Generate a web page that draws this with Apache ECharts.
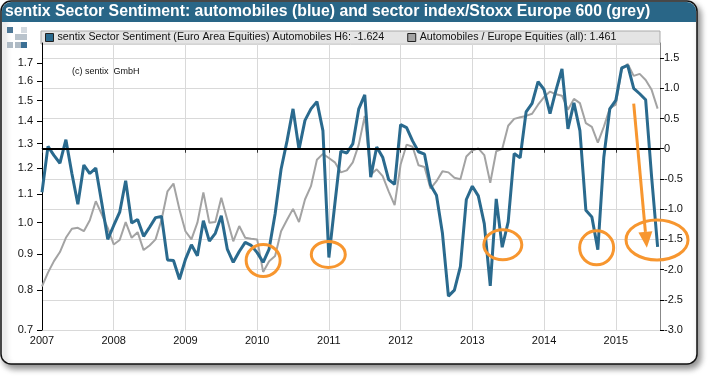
<!DOCTYPE html>
<html lang="en">
<head>
<meta charset="UTF-8">
<title>sentix Sector Sentiment: automobiles</title>
<script src="https://cdn.jsdelivr.net/npm/echarts@6/dist/echarts.min.js"></script>
<style>
html, body { margin: 0; padding: 0; background: #fff; }
#chart { width: 710px; height: 376px; }
</style>
</head>
<body>
<div id="chart"></div>
<script type="text/javascript">
// monthly values, Jan 2007 .. Aug 2015
var startYear = 2007;
var sentiment = [
    -0.72, 0.04, -0.11, -0.24, 0.15, -0.41, -0.92, -0.27, -0.41, -0.32, -0.90, -1.50,
    -1.27, -1.05, -0.53, -1.23, -1.17, -1.45, -1.30, -1.14, -1.12, -1.84, -1.85, -2.16,
    -1.83, -1.59, -1.77, -1.19, -1.53, -1.40, -1.11, -1.66, -1.88, -1.70, -1.55, -1.60,
    -1.72, -1.88, -1.66, -1.08, -0.34, 0.13, 0.66, -0.01, 0.47, 0.66, 0.78, 0.30,
    -1.80, -0.91, -0.04, -0.07, 0.08, 0.66, 0.89, -0.47, 0.03, -0.14, -0.51, -0.59,
    0.40, 0.35, 0.13, -0.05, -0.09, -0.60, -0.77, -1.40, -2.44, -2.34, -1.95, -0.84,
    -0.62, -0.78, -1.24, -2.27, -0.83, -1.63, -1.21, -0.08, -0.15, 0.61, 0.75, 1.11,
    0.98, 0.58, 0.97, 1.32, 0.33, 0.76, 0.30, -1.02, -1.13, -1.67, -0.14, 0.66,
    0.80, 1.34, 1.38, 1.00, 0.91, 0.81, -0.47, -1.624
];
var relIndex = [
    0.809, 0.847, 0.880, 0.907, 0.951, 0.980, 0.983, 0.972, 1.008, 1.074, 1.028, 0.983,
    0.930, 0.944, 1.002, 0.951, 0.969, 0.913, 0.927, 0.946, 1.010, 1.110, 1.139, 1.045,
    0.972, 0.946, 1.000, 1.106, 1.000, 1.002, 1.086, 1.010, 0.940, 0.989, 0.951, 0.948,
    0.946, 0.849, 0.880, 0.895, 0.972, 1.010, 1.047, 1.002, 1.080, 1.129, 1.233, 1.257,
    1.240, 1.222, 1.182, 1.190, 1.222, 1.296, 1.426, 1.173, 1.194, 1.167, 1.110, 1.060,
    1.213, 1.296, 1.287, 1.210, 1.203, 1.120, 1.148, 1.186, 1.182, 1.161, 1.155, 1.246,
    1.271, 1.280, 1.252, 1.142, 1.268, 1.278, 1.380, 1.412, 1.420, 1.426, 1.436, 1.480,
    1.518, 1.546, 1.532, 1.525, 1.456, 1.509, 1.488, 1.392, 1.375, 1.305, 1.375, 1.463,
    1.480, 1.665, 1.695, 1.629, 1.640, 1.607, 1.555, 1.461
];
var leftTicks = [0.7, 0.8, 0.9, 1.0, 1.1, 1.2, 1.3, 1.4, 1.5, 1.6, 1.7];
var blueName = 'sentix Sector Sentiment (Euro Area Equities) Automobiles H6: -1.624';
var greyName = 'Automobiles / Europe Equities (all): 1.461';

// orange marks, in chart coordinates (month index, right axis value) + radii
var rings = [[37.0, -1.85, 17, 16], [47.9, -1.75, 17, 13], [77.1, -1.59, 19, 15], [92.8, -1.64, 17, 17], [102.9, -1.51, 31, 20]];
var arrow = [[99.0, 0.745], [101.2, -1.64]];

var blue = '#2a6a8e', grey = '#a3a3a3', orange = '#f7962f';
var font = '"Liberation Sans", Arial, sans-serif';

function pairs(arr) {
    return arr.map(function (v, i) { return [i, v]; });
}

var chart = echarts.init(document.getElementById('chart'));

var frame = [
    { type: 'rect', z: -10, shape: { x: 1, y: 1, width: 696, height: 363, r: 10 },
      style: { fill: '#fff', stroke: '#111', lineWidth: 1.5, shadowBlur: 6, shadowOffsetX: 3, shadowOffsetY: 4, shadowColor: 'rgba(0,0,0,0.45)' } },
    { type: 'rect', z: -9, shape: { x: 2, y: 2, width: 694, height: 20, r: [9, 9, 0, 0] }, style: { fill: '#296687' } },
    { type: 'text', z: -8, left: 5, top: 4, style: { text: 'sentix Sector Sentiment: automobiles (blue) and sector index/Stoxx Europe 600 (grey)', fill: '#fff', font: 'bold 15.8px ' + font } },
    { type: 'rect', z: -9, shape: { x: 41, y: 31, width: 619, height: 13 }, style: { fill: '#e4e4e4', stroke: '#aaa', lineWidth: 1 } },
    { type: 'text', z: -8, left: 72, top: 67, style: { text: '(c) sentix  GmbH', fill: '#111', font: '9px ' + font } },
    { type: 'rect', z: -8, shape: { x: 7, y: 27, width: 6, height: 6 }, style: { fill: '#4d7796' } },
    { type: 'rect', z: -8, shape: { x: 21, y: 27, width: 6, height: 6 }, style: { fill: '#d3d9df' } },
    { type: 'rect', z: -8, shape: { x: 15, y: 34, width: 6, height: 6 }, style: { fill: '#b9c3cc' } },
    { type: 'rect', z: -8, shape: { x: 21, y: 34, width: 6, height: 6 }, style: { fill: '#b9c3cc' } },
    { type: 'rect', z: -8, shape: { x: 7, y: 42, width: 6, height: 6 }, style: { fill: '#aebac4' } },
    { type: 'rect', z: -8, shape: { x: 15, y: 42, width: 6, height: 6 }, style: { fill: '#aebac4' } },
    { type: 'rect', z: -8, shape: { x: 21, y: 42, width: 6, height: 6 }, style: { fill: '#3b6f94' } }
];

var option = {
    animation: false,
    textStyle: { fontFamily: font },
    graphic: frame,
    legend: {
        left: 45, top: 32, padding: 0, itemGap: 23, itemWidth: 8, itemHeight: 8, icon: 'rect',
        itemStyle: { borderColor: '#222', borderWidth: 1 },
        textStyle: { fontSize: 10.7, color: '#111', padding: [0, 0, 0, -1] },
        data: [blueName, greyName]
    },
    grid: { left: 42, right: 50, top: 43, bottom: 46 },
    xAxis: {
        type: 'value', min: 0, max: 103.4, interval: 12,
        axisLine: { lineStyle: { color: '#888' } },
        axisTick: { length: 4, lineStyle: { color: '#333' } },
        axisLabel: { color: '#111', fontSize: 11, margin: 5, showMaxLabel: false,
            formatter: function (v) { return String(startYear + v / 12); } },
        splitLine: { show: true, lineStyle: { color: '#d9d9d9' } }
    },
    yAxis: [{
        type: 'log', position: 'left', min: 0.7, max: 1.817,
        axisLine: { show: true, lineStyle: { color: '#000' } },
        axisTick: { show: true, length: 5, customValues: leftTicks, lineStyle: { color: '#000' } },
        axisLabel: { customValues: leftTicks, color: '#111', fontSize: 11, margin: 9,
            formatter: function (v) { return v.toFixed(1); } },
        splitLine: { show: false }
    }, {
        type: 'value', position: 'right', min: -3, max: 1.75, interval: 0.5,
        axisLine: { show: true, lineStyle: { color: '#888' } },
        axisTick: { show: true, length: 4, lineStyle: { color: '#000' } },
        axisLabel: { color: '#111', fontSize: 11, margin: 4, showMaxLabel: false,
            formatter: function (v) { return v === 0 ? '0' : v.toFixed(1); } },
        splitLine: { show: true, lineStyle: { color: '#d9d9d9' } }
    }],
    series: [{
        name: greyName, type: 'line', yAxisIndex: 0, showSymbol: false,
        color: grey, lineStyle: { width: 2, color: grey },
        data: pairs(relIndex)
    }, {
        name: blueName, type: 'line', yAxisIndex: 1, showSymbol: false,
        color: blue, lineStyle: { width: 3, color: blue },
        data: pairs(sentiment),
        markLine: {
            silent: true, symbol: 'none', label: { show: false },
            lineStyle: { color: '#000', width: 2, type: 'solid' },
            data: [{ yAxis: 0 }]
        }
    }]
};
chart.setOption(option);

// orange annotations placed through the chart's own coordinate system
var marks = [];
rings.forEach(function (r) {
    var p = chart.convertToPixel({ seriesIndex: 1 }, [r[0], r[1]]);
    marks.push({ type: 'ellipse', z: 100, shape: { cx: p[0], cy: p[1], rx: r[2], ry: r[3] },
        style: { fill: 'none', stroke: orange, lineWidth: 3 } });
});
var a0 = chart.convertToPixel({ seriesIndex: 1 }, arrow[0]);
var a1 = chart.convertToPixel({ seriesIndex: 1 }, arrow[1]);
var dx = a1[0] - a0[0], dy = a1[1] - a0[1], len = Math.sqrt(dx * dx + dy * dy);
var ux = dx / len, uy = dy / len, head = 16, half = 7;
var bx = a1[0] - ux * head, by = a1[1] - uy * head;
marks.push({ type: 'line', z: 100, shape: { x1: a0[0], y1: a0[1], x2: bx, y2: by },
    style: { stroke: orange, lineWidth: 3 } });
marks.push({ type: 'polygon', z: 100,
    shape: { points: [[a1[0], a1[1]], [bx - uy * half, by + ux * half], [bx + uy * half, by - ux * half]] },
    style: { fill: orange } });
chart.setOption({ graphic: frame.concat(marks) });
</script>
</body>
</html>
